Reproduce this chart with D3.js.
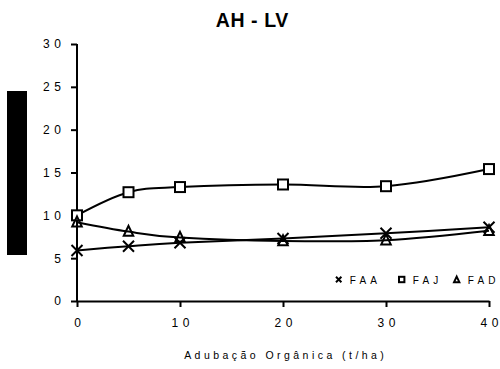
<!DOCTYPE html>
<html>
<head>
<meta charset="utf-8">
<script src="https://cdn.jsdelivr.net/npm/d3@7"></script>
<style>
  html, body { margin: 0; padding: 0; background: #fff; }
  svg { display: block; }
</style>
</head>
<body>
<svg id="chart" width="500" height="369"></svg>
<script>
// Doses of organic fertiliser (t/ha)
const doses = [0, 5, 10, 20, 30, 40];
// Series values
const faa = [5.9, 6.4, 6.8, 7.3, 7.9, 8.6];
const faj = [10.0, 12.7, 13.3, 13.6, 13.4, 15.4];
const fad = [9.2, 8.1, 7.4, 7.0, 7.1, 8.2];
const seriesNames = ["FAA", "FAJ", "FAD"];
const yTicks = [0, 5, 10, 15, 20, 25, 30];
const xTicks = [0, 10, 20, 30, 40];
const chartTitle = "AH - LV";
const xTitle = "Adubação Orgânica (t/ha)";

const svg = d3.select("#chart");
const font = "'Liberation Sans', Arial, sans-serif";

// Spread characters apart without adding space after the last one
function spaced(sel, gap) {
  sel.each(function () {
    const t = d3.select(this);
    const n = t.text().length;
    t.attr("dx", d3.range(n).map(i => (i === 0 ? 0 : gap)).join(" "));
  });
}

const x = d3.scaleLinear().domain([0, 40]).range([77, 489]);
const y = d3.scaleLinear().domain([0, 30]).range([301, 44]);

// Title
svg.append("text")
  .attr("x", 252).attr("y", 27)
  .attr("text-anchor", "middle")
  .attr("font-family", font).attr("font-weight", "bold")
  .attr("font-size", 19.5)
  .attr("dx", "0 0.6 0.6 0.6 0.6 0.6 0.6")
  .text(chartTitle);

// Solid block at left (axis title area)
svg.append("rect")
  .attr("x", 7).attr("y", 91).attr("width", 20).attr("height", 164)
  .attr("fill", "#000");

// Y axis
const yAxis = svg.append("g")
  .attr("transform", `translate(${x(0)},0)`)
  .call(d3.axisLeft(y).tickValues(yTicks).tickSize(6).tickSizeOuter(0).tickFormat(d3.format("d")));
yAxis.attr("font-size", null).attr("font-family", null);
yAxis.select(".domain").attr("stroke-width", 2).attr("d", `M0,${y(30)}V${y(0)}`);
yAxis.selectAll(".tick line").attr("stroke-width", 2);
yAxis.selectAll(".tick text")
  .attr("x", -16)
  .style("font-family", font).style("font-size", "12px")
  .attr("fill", "#000")
  .call(spaced, 4.6);

// X axis
const xAxis = svg.append("g")
  .attr("transform", `translate(0,${y(0)})`)
  .call(d3.axisBottom(x).tickValues(xTicks).tickSize(6).tickSizeOuter(0).tickFormat(d3.format("d")));
xAxis.attr("font-size", null).attr("font-family", null);
xAxis.select(".domain").attr("stroke-width", 2);
xAxis.selectAll(".tick line").attr("stroke-width", 2);
xAxis.selectAll(".tick text")
  .attr("y", 25.5).attr("dy", 0)
  .style("font-family", font).style("font-size", "12px")
  .attr("fill", "#000")
  .call(spaced, 4.6);

// X axis title
svg.append("text")
  .attr("x", 284).attr("y", 359)
  .attr("text-anchor", "middle")
  .style("font-family", font).style("font-size", "10.5px")
  .attr("fill", "#000")
  .text(xTitle)
  .call(spaced, 3.45);

// Smoothed lines
const line = d3.line()
  .x((d, i) => x(doses[i]))
  .y(d => y(d))
  .curve(d3.curveCardinal.tension(0));

const allSeries = [faa, faj, fad];
allSeries.forEach(s => {
  svg.append("path")
    .datum(s)
    .attr("d", line)
    .attr("fill", "none")
    .attr("stroke", "#000")
    .attr("stroke-width", 2);
});

// Marker shapes
function drawCross(g, cx, cy, r, w) {
  g.append("path")
    .attr("d", `M${cx - r},${cy - r}L${cx + r},${cy + r}M${cx - r},${cy + r}L${cx + r},${cy - r}`)
    .attr("stroke", "#000").attr("stroke-width", w).attr("fill", "none");
}
function drawSquare(g, cx, cy, r, w) {
  g.append("rect")
    .attr("x", cx - r).attr("y", cy - r).attr("width", 2 * r).attr("height", 2 * r)
    .attr("stroke", "#000").attr("stroke-width", w).attr("fill", "#fff");
}
function drawTriangle(g, cx, cy, r, w) {
  g.append("path")
    .attr("d", `M${cx},${cy - r * 1.15}L${cx + r * 0.95},${cy + r * 0.85}L${cx - r * 0.95},${cy + r * 0.85}Z`)
    .attr("stroke", "#000").attr("stroke-width", w).attr("fill", "none")
    .attr("stroke-linejoin", "miter");
}
const drawers = [drawCross, drawSquare, drawTriangle];

const marks = svg.append("g");
allSeries.forEach((s, k) => {
  s.forEach((v, i) => {
    const r = k === 0 ? 5.5 : 5;
    drawers[k](marks, x(doses[i]), y(v), r, 2);
  });
});

// Legend
const legendX = [338.7, 401.7, 456.7];
const legendG = svg.append("g");
seriesNames.forEach((name, k) => {
  const cx = legendX[k], cy = 279.5;
  if (k === 0) drawCross(legendG, cx, cy, 2.7, 2);
  if (k === 1) drawSquare(legendG, cx, cy, 2.7, 2);
  if (k === 2) drawTriangle(legendG, cx, cy + 0.3, 2.8, 2);
  legendG.append("text")
    .attr("x", cx + 11).attr("y", 283.5)
    .style("font-family", font).style("font-size", "10px")
    .attr("fill", "#000")
    .text(name)
    .call(spaced, 4.2);
});
</script>
</body>
</html>
